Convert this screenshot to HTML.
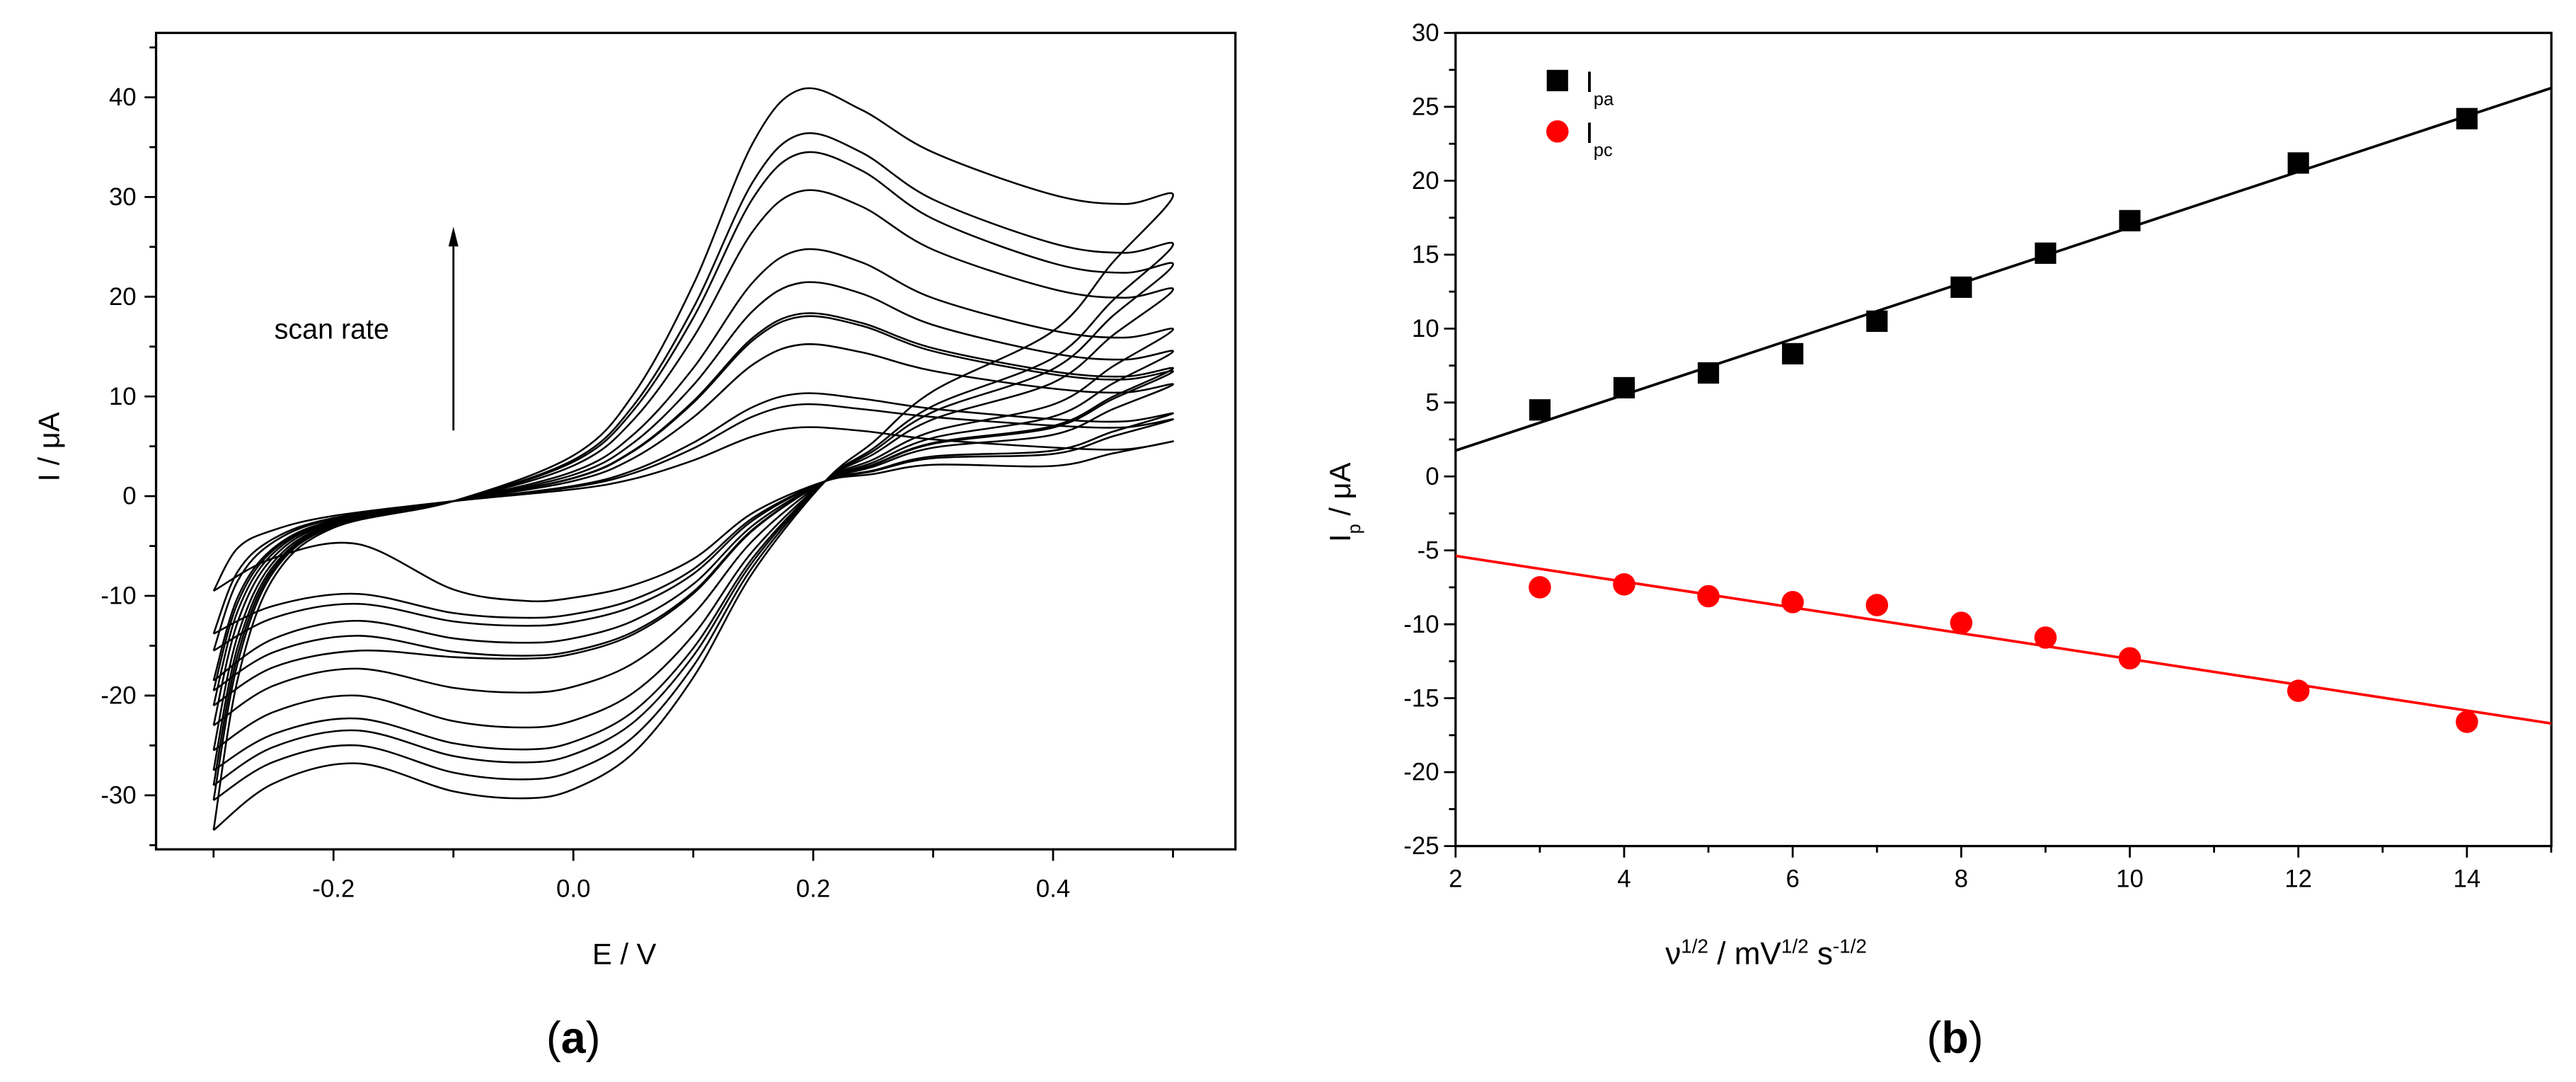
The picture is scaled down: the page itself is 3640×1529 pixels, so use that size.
<!DOCTYPE html>
<html><head><meta charset="utf-8"><style>
html,body{margin:0;padding:0;background:#fff;}
svg{display:block;}
text{font-family:"Liberation Sans",sans-serif;fill:#000;}
</style></head><body>
<svg id="fig" xmlns="http://www.w3.org/2000/svg" width="3640" height="1529" viewBox="0 0 1568 658.6">
<rect x="0" y="0" width="1568" height="659" fill="#fff"/>
<g id="pa"></g>
<g id="pb"></g>
</svg>
<script>
// ---------- Panel (a) data: cyclic voltammograms ----------
const cvAnodicPeak = [6.9, 9.2, 10.3, 15.2, 18.0, 18.3, 21.4, 24.7, 30.6, 34.4, 36.3, 40.8];
const cvCathodicPeak = [-10.5, -12.2, -13.0, -14.7, -16.0, -16.3, -19.7, -23.2, -25.4, -26.7, -28.4, -30.3];
const cvEndValue = [5.5, 7.7, 8.3, 11.2, 12.5, 12.8, 14.5, 16.7, 20.7, 23.2, 25.2, 30.1];
const cvStartValue = [-9.5, -13.8, -15.5, -18.5, -19.5, -21, -23, -25.5, -27.5, -29, -30.5, -33.5];
const cvLowerMax = [-4.8, -9.8, -10.8, -12.5, -14, -15.5, -17.3, -20, -22.3, -23.5, -25, -26.8];
const cvXTicks = [-0.2, 0.0, 0.2, 0.4];
const cvXTickLabels = ["-0.2", "0.0", "0.2", "0.4"];
const cvYTicks = [-30, -20, -10, 0, 10, 20, 30, 40];
const cvYTickLabels = ["-30", "-20", "-10", "0", "10", "20", "30", "40"];

// ---------- Panel (b) data ----------
const sqrtRate = [3, 4, 5, 6, 7, 8, 9, 10, 12, 14];
const ipaValues = [4.5, 6.0, 7.0, 8.3, 10.5, 12.8, 15.1, 17.3, 21.2, 24.2];
const ipcValues = [-7.5, -7.3, -8.1, -8.5, -8.7, -9.9, -10.9, -12.3, -14.5, -16.6];
const bXTicks = [2, 4, 6, 8, 10, 12, 14];
const bXTickLabels = ["2", "4", "6", "8", "10", "12", "14"];
const bYTicks = [-25, -20, -15, -10, -5, 0, 5, 10, 15, 20, 25, 30];
const bYTickLabels = ["-25", "-20", "-15", "-10", "-5", "0", "5", "10", "15", "20", "25", "30"];

const NS = "http://www.w3.org/2000/svg";
function mk(parent, tag, attrs, txt) {
  const e = document.createElementNS(NS, tag);
  for (const k in attrs) e.setAttribute(k, attrs[k]);
  if (txt !== undefined) e.textContent = txt;
  parent.appendChild(e);
  return e;
}
function smoothPath(pts) {
  let d = "M" + pts[0][0].toFixed(2) + "," + pts[0][1].toFixed(2);
  for (let i = 0; i < pts.length - 1; i++) {
    const p0 = pts[Math.max(0, i - 1)], p1 = pts[i], p2 = pts[i + 1], p3 = pts[Math.min(pts.length - 1, i + 2)];
    const c1 = [p1[0] + (p2[0] - p0[0]) / 6, p1[1] + (p2[1] - p0[1]) / 6];
    const c2 = [p2[0] - (p3[0] - p1[0]) / 6, p2[1] - (p3[1] - p1[1]) / 6];
    d += " C" + c1[0].toFixed(2) + "," + c1[1].toFixed(2) + " " + c2[0].toFixed(2) + "," + c2[1].toFixed(2) + " " + p2[0].toFixed(2) + "," + p2[1].toFixed(2);
  }
  return d;
}

// ---------- Panel (a) ----------
const ga = document.getElementById("pa");
const A = {l: 95, r: 752, t: 20, b: 517};
const xa = E => 349 + E * 730;
const ya = I => 302 - 6.07 * I;

for (let i = 0; i < cvAnodicPeak.length; i++) {
  const pa = cvAnodicPeak[i], pc = cvCathodicPeak[i], en = cvEndValue[i], st = cvStartValue[i], lm = cvLowerMax[i];
  const m = en - 0.8;
  const up = [
    [-0.3, st], [-0.28, st * 0.55], [-0.25, -1.5 + 0.2 * st], [-0.2, -1.5 + 0.05 * st], [-0.1, -0.5],
    [0.0, 0.1 * pa], [0.05, 0.25 * pa], [0.1, 0.52 * pa], [0.15, 0.87 * pa], [0.19, pa], [0.24, 0.95 * pa],
    [0.3, m + (pa - m) * 0.45], [0.4, m + (pa - m) * 0.08], [0.46, m], [0.5, en]
  ];
  const low = [
    [0.5, en], [0.45, 0.78 * en], [0.4, 0.55 * en], [0.3, 1.5 + 0.3 * en], [0.25, 1.5 + 0.13 * en], [0.21, 1.5],
    [0.15, 1.5 + 0.3 * pc], [0.1, 0.6 * pc], [0.05, 0.85 * pc], [0.0, 0.97 * pc], [-0.04, pc],
    [-0.1, (pc + lm) / 2 + 0.3 * (pc - lm)], [-0.18, lm], [-0.25, lm + (st - lm) * 0.3], [-0.3, st]
  ];
  const pts = up.concat(low.slice(1)).map(p => [xa(p[0]), ya(p[1])]);
  const path = mk(ga, "path", {d: smoothPath(pts), fill: "none", stroke: "#000", "stroke-width": "1.1"});
  
  
}
mk(ga, "rect", {x: A.l, y: A.t, width: A.r - A.l, height: A.b - A.t, fill: "none", stroke: "#000", "stroke-width": "1.4",  });
for (let k = -3; k <= 5; k++) {
  const E = k / 10, x = xa(E);
  const major = (k % 2 === 0);
  mk(ga, "line", {x1: x, y1: A.b, x2: x, y2: A.b + (major ? 7 : 5), stroke: "#000", "stroke-width": "1.2"});
}
cvXTicks.forEach((v, i) => {
  const t = mk(ga, "text", {x: xa(v), y: A.b + 29, "font-size": "15", "text-anchor": "middle"}, cvXTickLabels[i]);
  
  
});
for (let v = -35; v <= 45; v += 5) {
  const y = ya(v);
  const major = (v % 10 === 0);
  mk(ga, "line", {x1: A.l, y1: y, x2: A.l - (major ? 7 : 4), y2: y, stroke: "#000", "stroke-width": "1.2"});
}
cvYTicks.forEach((v, i) => {
  const t = mk(ga, "text", {x: A.l - 12, y: ya(v) + 5, "font-size": "15", "text-anchor": "end"}, cvYTickLabels[i]);
  
  
});
mk(ga, "text", {x: 380, y: 587, "font-size": "18", "text-anchor": "middle",  }, "E / V");
mk(ga, "text", {x: 36, y: 272, "font-size": "18", "text-anchor": "middle", transform: "rotate(-90 36 272)",  }, "I / μA");
mk(ga, "text", {x: 167, y: 206, "font-size": "17",  }, "scan rate");
mk(ga, "line", {x1: 276, y1: 262, x2: 276, y2: 146, stroke: "#000", "stroke-width": "1.2",  });
mk(ga, "path", {d: "M276,138 L273,150 L279,150 Z", fill: "#000"});
mk(ga, "text", {x: 349, y: 641, "font-size": "27", "text-anchor": "middle", "font-family": "Liberation Serif, serif",  }).innerHTML = '(<tspan font-weight="bold">a</tspan>)';

// ---------- Panel (b) ----------
const gb = document.getElementById("pb");
const B = {l: 886, r: 1553, t: 20, b: 515};
const xb = v => 886 + 51.3 * (v - 2);
const yb = I => 290 - 9.0 * I;
mk(gb, "rect", {x: B.l, y: B.t, width: B.r - B.l, height: B.b - B.t, fill: "none", stroke: "#000", "stroke-width": "1.4",  });
for (let v = 2; v <= 15; v++) {
  const major = (v % 2 === 0);
  mk(gb, "line", {x1: xb(v), y1: B.b, x2: xb(v), y2: B.b + (major ? 7 : 4), stroke: "#000", "stroke-width": "1.2"});
}
bXTicks.forEach((v, i) => {
  const t = mk(gb, "text", {x: xb(v), y: B.b + 25, "font-size": "15", "text-anchor": "middle"}, bXTickLabels[i]);
  
  
});
for (let v = -25; v <= 30; v += 2.5) {
  const major = (Math.abs(v % 5) < 0.01);
  mk(gb, "line", {x1: B.l, y1: yb(v), x2: B.l - (major ? 7 : 4), y2: yb(v), stroke: "#000", "stroke-width": "1.2"});
}
bYTicks.forEach((v, i) => {
  const t = mk(gb, "text", {x: B.l - 10, y: yb(v) + 5, "font-size": "15", "text-anchor": "end"}, bYTickLabels[i]);
  
  
});
function fit(xs, ys) {
  const n = xs.length, mx = xs.reduce((a, b) => a + b) / n, my = ys.reduce((a, b) => a + b) / n;
  let sxy = 0, sxx = 0;
  for (let i = 0; i < n; i++) { sxy += (xs[i] - mx) * (ys[i] - my); sxx += (xs[i] - mx) ** 2; }
  const s = sxy / sxx; return [s, my - s * mx];
}
const fa = fit(sqrtRate, ipaValues), fc = fit(sqrtRate, ipcValues);
const la = mk(gb, "line", {x1: xb(2), y1: yb(fa[1] + fa[0] * 2), x2: xb(15), y2: yb(fa[1] + fa[0] * 15), stroke: "#000", "stroke-width": "1.6"});


const lc = mk(gb, "line", {x1: xb(2), y1: yb(fc[1] + fc[0] * 2), x2: xb(15), y2: yb(fc[1] + fc[0] * 15), stroke: "#f00", "stroke-width": "1.6"});


sqrtRate.forEach((v, i) => {
  const s = mk(gb, "rect", {x: xb(v) - 6.5, y: yb(ipaValues[i]) - 6.5, width: 13, height: 13, fill: "#000"});
  
  
  const c = mk(gb, "circle", {cx: xb(v), cy: yb(ipcValues[i]), r: 6.8, fill: "#f00"});
  
  
});
const lg = mk(gb, "g", { });
mk(lg, "rect", {x: 941.5, y: 42.5, width: 13, height: 13, fill: "#000",  });
mk(lg, "text", {x: 965, y: 56, "font-size": "18",  }).innerHTML = 'I<tspan font-size="11" dy="8">pa</tspan>';
mk(lg, "circle", {cx: 948, cy: 80, r: 6.8, fill: "#f00",  });
mk(lg, "text", {x: 965, y: 87, "font-size": "18",  }).innerHTML = 'I<tspan font-size="11" dy="8">pc</tspan>';
mk(gb, "text", {x: 1075, y: 587, "font-size": "19", "text-anchor": "middle",  }).innerHTML =
  'ν<tspan font-size="12" dy="-7">1/2</tspan><tspan dy="7"> / mV</tspan><tspan font-size="12" dy="-7">1/2</tspan><tspan dy="7"> s</tspan><tspan font-size="12" dy="-7">-1/2</tspan>';
mk(gb, "text", {x: 0, y: 0, "font-size": "18", transform: "translate(822 330) rotate(-90)",  }).innerHTML =
  'I<tspan font-size="11" dy="6">p</tspan><tspan dy="-6"> / μA</tspan>';
mk(gb, "text", {x: 1190, y: 641, "font-size": "27", "text-anchor": "middle", "font-family": "Liberation Serif, serif",  }).innerHTML = '(<tspan font-weight="bold">b</tspan>)';
</script>
</body></html>
